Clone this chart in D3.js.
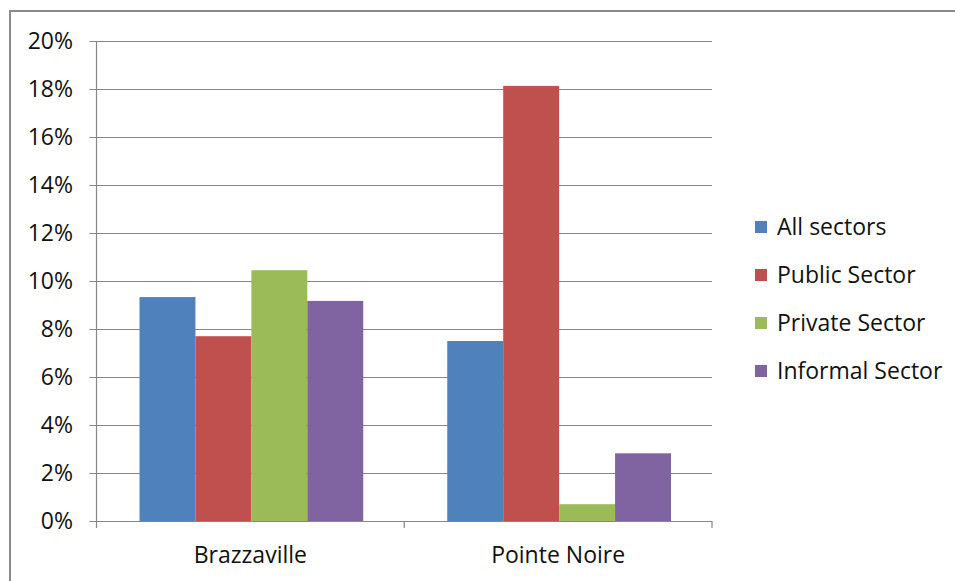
<!DOCTYPE html>
<html>
<head>
<meta charset="utf-8">
<script src="https://cdn.jsdelivr.net/npm/d3@7"></script>
<style>
  body { margin: 0; background: #fff; }
  text { font-family: "Open Sans", Lato, sans-serif; fill: #111; }
</style>
</head>
<body>
<div id="chart"></div>
<script>
const cities = ['Brazzaville', 'Pointe Noire'];
const sectors = ['All sectors', 'Public Sector', 'Private Sector', 'Informal Sector'];
const colours = ['#4F81BD', '#C0504D', '#9BBB59', '#8064A2'];
const allSectors = [9.33, 7.5];
const publicSector = [7.7, 18.13];
const privateSector = [10.45, 0.7];
const informalSector = [9.17, 2.82];
const yTicks = [0, 2, 4, 6, 8, 10, 12, 14, 16, 18, 20];

const seriesValues = [allSectors, publicSector, privateSector, informalSector];

var width = 955, height = 581;
var svg = d3.select('#chart').append('svg')
    .attr('width', width)
    .attr('height', height);

// outer chart frame (cut off on the right and bottom like the original)
svg.append('rect')
    .attr('x', 10).attr('y', 11)
    .attr('width', 1000).attr('height', 600)
    .attr('fill', 'none')
    .attr('stroke', '#8a8a8a')
    .attr('stroke-width', 2);

const plot = { left: 96.5, right: 712, top: 41, bottom: 521 };

const x0 = d3.scaleBand().domain(cities).range([plot.left, plot.right]);
const x1 = d3.scaleBand().domain(sectors)
    .range([0, x0.bandwidth() * 0.727]);
const y = d3.scaleLinear().domain([0, 20]).range([plot.bottom, plot.top]);

// gridlines
svg.append('g')
    .selectAll('line')
    .data(yTicks)
    .enter()
    .append('line')
    .attr('x1', plot.left - 7).attr('x2', plot.right)
    .attr('y1', d => Math.round(y(d)) + 0.5).attr('y2', d => Math.round(y(d)) + 0.5)
    .attr('stroke', '#868686')
    .attr('stroke-width', 1.2);

// y tick labels
svg.append('g')
    .selectAll('text')
    .data(yTicks)
    .enter()
    .append('text')
    .attr('x', 73)
    .attr('y', d => y(d))
    .attr('dy', '0.36em')
    .attr('text-anchor', 'end')
    .attr('font-size', 23)
    .text(d => d + '%');

// bars
const groupOffset = (x0.bandwidth() - x1.range()[1]) / 2 + 1;
svg.append('g')
    .selectAll('g')
    .data(cities)
    .enter()
    .append('g')
    .attr('transform', d => `translate(${x0(d) + groupOffset},0)`)
    .selectAll('rect')
    .data((d, i) => sectors.map((s, j) => ({ sector: s, value: seriesValues[j][i], colour: colours[j] })))
    .enter()
    .append('rect')
    .attr('x', d => x1(d.sector))
    .attr('width', x1.bandwidth())
    .attr('y', d => y(d.value))
    .attr('height', d => y(0) - y(d.value))
    .attr('fill', d => d.colour);

// axes lines
svg.append('line')
    .attr('x1', plot.left).attr('x2', plot.left)
    .attr('y1', plot.top).attr('y2', plot.bottom + 7)
    .attr('stroke', '#868686').attr('stroke-width', 1.2);
svg.append('line')
    .attr('x1', plot.left).attr('x2', plot.right)
    .attr('y1', plot.bottom + 0.5).attr('y2', plot.bottom + 0.5)
    .attr('stroke', '#868686').attr('stroke-width', 1.2);

// category separators
svg.append('g')
    .selectAll('line')
    .data([plot.left + x0.bandwidth(), plot.right])
    .enter()
    .append('line')
    .attr('x1', d => d).attr('x2', d => d)
    .attr('y1', plot.bottom).attr('y2', plot.bottom + 7)
    .attr('stroke', '#868686').attr('stroke-width', 1.2);

// category labels
svg.append('g')
    .selectAll('text')
    .data(cities)
    .enter()
    .append('text')
    .attr('x', d => x0(d) + x0.bandwidth() / 2)
    .attr('y', 555)
    .attr('dy', '0.36em')
    .attr('text-anchor', 'middle')
    .attr('font-size', 23)
    .text(d => d);

// legend
const legend = svg.append('g')
    .selectAll('g')
    .data(sectors)
    .enter()
    .append('g')
    .attr('transform', (d, i) => `translate(755,${227 + i * 48})`);

legend.append('rect')
    .attr('x', 0).attr('y', -6)
    .attr('width', 12).attr('height', 12)
    .attr('fill', (d, i) => colours[i]);

legend.append('text')
    .attr('x', 22)
    .attr('y', 0)
    .attr('dy', '0.36em')
    .attr('font-size', 23)
    .text(d => d);
</script>
</body>
</html>
